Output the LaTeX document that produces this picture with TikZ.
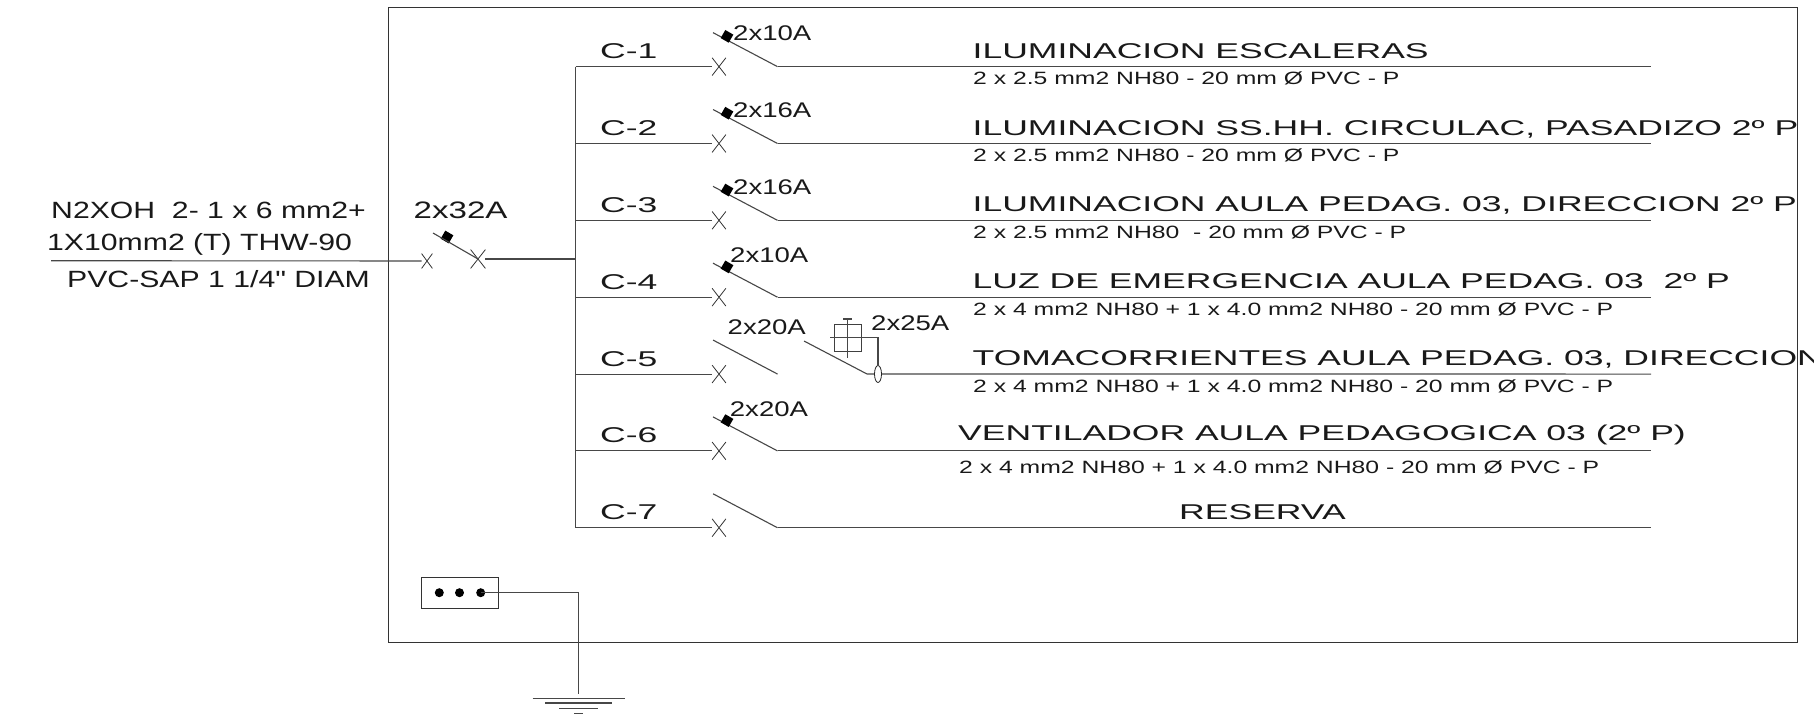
\documentclass[tikz,border=0pt]{standalone}
\usepackage{fontspec}
\usetikzlibrary{shapes.misc,shapes.geometric}
\newfontfamily\circuitfont[FakeStretch=1.66]{Liberation Sans}
\newfontfamily\cablefont[FakeStretch=1.39]{Liberation Sans}
\newfontfamily\ratingfont[FakeStretch=1.3]{Liberation Sans}
\newfontfamily\feedfont[FakeStretch=1.285]{Liberation Sans}

\begin{document}
\begin{tikzpicture}[x=1pt,y=-1pt]
	\tikzstyle{wire} = [draw=black!72,line width=1.1pt]
	\tikzstyle{cut} = [cross out,draw=black!80,line width=.8pt,inner sep=0pt,minimum width=13pt,minimum height=17pt]
	\tikzstyle{latch} = [rectangle,fill=black,inner sep=0pt,minimum size=9.3pt,rotate=-30]
	\tikzstyle{circuit} = [anchor=base west,inner sep=0pt,text=black!90,font=\circuitfont\fontsize{21.4}{24}\selectfont]
	\tikzstyle{cable} = [anchor=base west,inner sep=0pt,text=black!90,font=\cablefont\fontsize{17.8}{20}\selectfont]
	\tikzstyle{rating} = [anchor=base west,inner sep=0pt,text=black!90,font=\ratingfont\fontsize{21.2}{24}\selectfont]
	\tikzstyle{feedtext} = [anchor=base west,inner sep=0pt,text=black!90,font=\feedfont\fontsize{23.5}{26}\selectfont]
	\useasboundingbox (0,0) rectangle (1814,720);
	% panel
	\node[draw=black!80,line width=1pt,inner sep=0pt,minimum width=1409pt,minimum height=635pt] (panel) at (1092.5,324.5) {};
	% incoming feeder
	\node[feedtext] (feed1) at (51,218) {N2XOH~ 2- 1 x 6 mm2+};
	\node[feedtext] (feed2) at (47,250.5) {1X10mm2 (T) THW-90};
	\node[feedtext] (feed3) at (67,287) {PVC-SAP 1 1/4" DIAM};
	\node[anchor=base west,inner sep=0pt,text=black!90,font=\cablefont\fontsize{23.8}{26}\selectfont] (mainrating) at (413.5,218) {2x32A};
	\coordinate (feed) at (51,260.7);
	\node[cut,minimum width=10pt,minimum height=14pt] (main1) at (427,261) {};
	\node[cut,minimum width=14pt,minimum height=18pt] (main2) at (478,259) {};
	\coordinate (mainblade) at (433,233);
	\node[latch] (mainlatch) at (447,237) {};
	\coordinate (tap) at (576,259);
	\draw[wire] (feed) -- (main1);
	\draw[wire] (mainblade) -- (main2.center);
	\draw[wire] (main2) -- (tap);
	% circuit branches
	\foreach \i [evaluate=\i as \y using \i*76.85-10.2] in {1,...,7} {
		\coordinate (bus\i) at (575.7,\y);
		\node[cut] (cut\i) at (719,\y) {};
		\coordinate (blade\i) at (713,\y-34);
		\coordinate (out\i) at (777.5,\y);
		\coordinate (end\i) at (1651,\y);
		\node[circuit] (name\i) at (600,\y-8) {C-\i};
		\draw[wire] (bus\i) -- (cut\i);
		\draw[wire] (blade\i) -- (out\i);
	}
	\draw[wire] (bus1) -- (bus7);
	\foreach \i in {1,2,3,4,6,7}
		\draw[wire] (out\i) -- (end\i);
	\foreach \i [evaluate=\i as \y using \i*76.85-40.5] in {1,2,3,4,6}
		\node[latch] (latch\i) at (727,\y) {};
	% ratings
	\foreach \i/\x/\y/\amps in {1/733/40/2x10A,2/733/117/2x16A,3/733/194/2x16A,4/730/262.3/2x10A,5/727.5/334/2x20A,6/729.7/416/2x20A}
		\node[rating] (rating\i) at (\x,\y) {\amps};
	% circuit titles
	\foreach \i/\x/\y/\what in {
		1/972.5/58.5/{ILUMINACION ESCALERAS},
		2/972.5/135.5/{ILUMINACION SS.HH. CIRCULAC, PASADIZO 2º P},
		3/972.5/211.5/{ILUMINACION AULA PEDAG. 03, DIRECCION 2º P},
		4/972.5/288.5/{LUZ DE EMERGENCIA AULA PEDAG. 03~ 2º P},
		5/972.5/365.5/{TOMACORRIENTES AULA PEDAG. 03, DIRECCION},
		6/958/440/{VENTILADOR AULA PEDAGOGICA 03 (2º P)},
		7/1179/519/{RESERVA}}
		\node[circuit] (title\i) at (\x,\y) {\what};
	% cable sizes
	\foreach \i/\x/\y/\what in {
		1/973/84/{2 x 2.5 mm2 NH80 - 20 mm Ø PVC - P},
		2/973/161/{2 x 2.5 mm2 NH80 - 20 mm Ø PVC - P},
		3/973/238/{2 x 2.5 mm2 NH80~ - 20 mm Ø PVC - P},
		4/973/315.5/{2 x 4 mm2 NH80 + 1 x 4.0 mm2 NH80 - 20 mm Ø PVC - P},
		5/973/392.5/{2 x 4 mm2 NH80 + 1 x 4.0 mm2 NH80 - 20 mm Ø PVC - P},
		6/959/473/{2 x 4 mm2 NH80 + 1 x 4.0 mm2 NH80 - 20 mm Ø PVC - P}}
		\node[cable] (size\i) at (\x,\y) {\what};
	% differential on circuit 5
	\node[rating] (rcdrating) at (871,330.7) {2x25A};
	\node[draw=black!75,line width=.9pt,inner sep=0pt,minimum size=27pt] (rcd) at (847.5,337.5) {};
	\coordinate (rcdblade) at (804,341);
	\coordinate (rcdout) at (867,374);
	\coordinate (rcdleft) at (830,337.7);
	\coordinate (rcdturn) at (878,337.7);
	\coordinate (rcdtop) at (847.7,319);
	\coordinate (rcdlow) at (847.7,357.7);
	\draw[wire] (rcdblade) -- (rcdout) -- (end5);
	\draw[wire] (rcdtop) -- (rcdlow);
	\draw[wire] ([xshift=-4.5pt]rcdtop) -- ([xshift=4.5pt]rcdtop);
	\node[ellipse,draw=black!85,fill=white,line width=.8pt,inner sep=0pt,minimum width=7pt,minimum height=17pt] (sensor) at (878,374) {};
	\draw[wire] (rcdleft) -- (rcdturn) -- (sensor);
	% earth bar
	\node[draw=black!80,line width=.9pt,inner sep=0pt,minimum width=77pt,minimum height=31pt] (bar) at (459.7,592.5) {};
	\foreach \i/\x in {1/439.3,2/459.5,3/480.7}
		\node[circle,fill=black,inner sep=0pt,minimum size=9pt] (dot\i) at (\x,592.7) {};
	\coordinate (earth) at (578.7,694);
	\draw[wire] (dot3.center) -| (earth);
	\draw[wire] (earth) ++(-46,4.7) -- ++(92,0);
	\draw[wire] (earth) ++(-33.5,9) -- ++(67,0);
	\draw[wire] (earth) ++(-19.5,14.3) -- ++(39,0);
	\draw[wire] (earth) ++(-4.5,19.7) -- ++(9,0);
\end{tikzpicture}
\end{document}
